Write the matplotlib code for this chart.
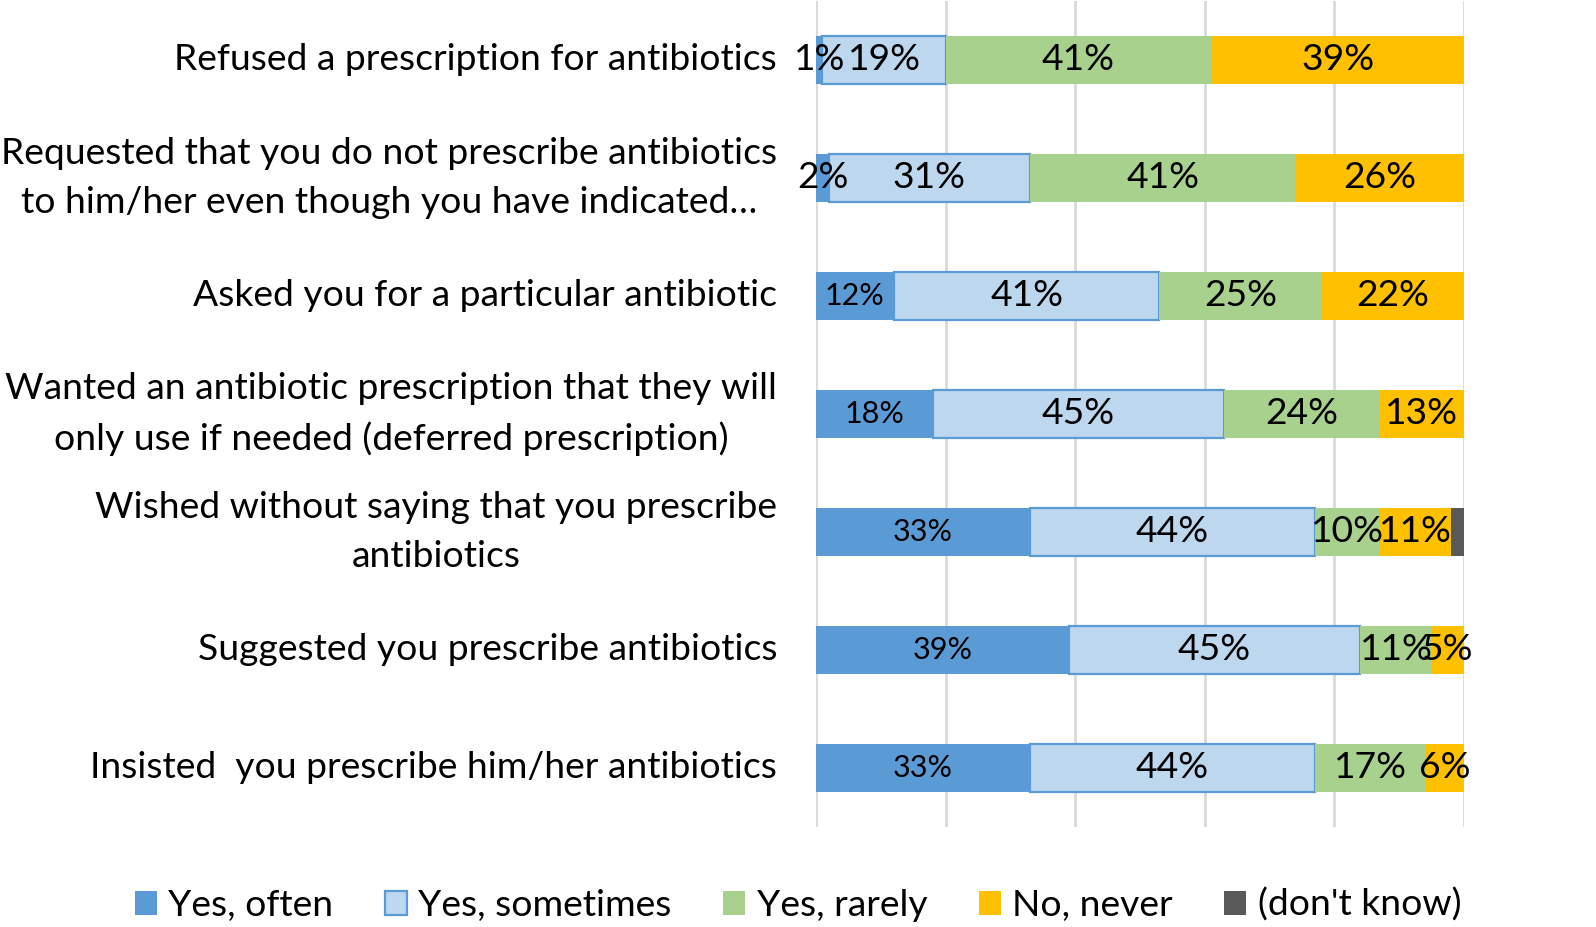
import matplotlib
matplotlib.use("Agg")
import matplotlib.pyplot as plt
from matplotlib.patches import Patch
import numpy as np

plt.rcParams['font.family'] = ['Lato', 'DejaVu Sans']

categories = [
    "Refused a prescription for antibiotics",
    "Requested that you do not prescribe antibiotics\nto him/her even though you have indicated…",
    "Asked you for a particular antibiotic",
    "Wanted an antibiotic prescription that they will\nonly use if needed (deferred prescription)",
    "Wished without saying that you prescribe\nantibiotics",
    "Suggested you prescribe antibiotics",
    "Insisted  you prescribe him/her antibiotics",
]
series_names = ["Yes, often", "Yes, sometimes", "Yes, rarely", "No, never", "(don't know)"]
yes_often = [1, 2, 12, 18, 33, 39, 33]
yes_sometimes = [19, 31, 41, 45, 44, 45, 44]
yes_rarely = [41, 41, 25, 24, 10, 11, 17]
no_never = [39, 26, 22, 13, 11, 5, 6]
dont_know = [0, 0, 0, 0, 2, 0, 0]

colors = ["#5B9BD5", "#BDD7EE", "#A9D18E", "#FFC000", "#595959"]
series = [yes_often, yes_sometimes, yes_rarely, no_never, dont_know]

FS = 26.8
fig = plt.figure(figsize=(15.96, 9.27), dpi=100)
ax = fig.add_axes([816/1596, 1-827/927, (1464-816)/1596, (827-1)/927])

n = len(categories)
ypos = np.arange(n)[::-1]
left = np.zeros(n)
bar_h = 0.4
for i, (vals, col) in enumerate(zip(series, colors)):
    vals = np.array(vals, dtype=float)
    if i == 1:
        ax.barh(ypos, vals, left=left, height=bar_h, color=col, edgecolor="#5B9BD5",
                linewidth=1.6, zorder=3)
    else:
        ax.barh(ypos, vals, left=left, height=bar_h, color=col, linewidth=0, zorder=3)
    if i < 4:
        for y, l, v in zip(ypos, left, vals):
            if v <= 0:
                continue
            small = (i == 0 and v >= 10)
            ax.text(l + v / 2, y, f"{int(v)}%", ha="center", va="center",
                    fontsize=22 if small else FS, color="black", zorder=5)
    left += vals

ax.set_xlim(0, 100)
ax.set_ylim(-0.5, n - 0.5)
ax.set_xticks([0, 20, 40, 60, 80, 100])
ax.xaxis.grid(True, color="#D9D9D9", linewidth=2, zorder=0)
ax.set_axisbelow(True)
ax.tick_params(axis="x", length=0, labelbottom=False)
ax.tick_params(axis="y", length=0, pad=0)
ax.set_yticks(ypos)
ax.set_yticklabels([])
for s in ax.spines.values():
    s.set_visible(False)

for y, c in zip(ypos, categories):
    ax.text(-6.0, y, c, ha="right", va="center", fontsize=FS, multialignment="center",
            linespacing=1.6, transform=ax.transData, clip_on=False)

handles = []
for i, (nm, col) in enumerate(zip(series_names, colors)):
    if i == 1:
        handles.append(Patch(facecolor=col, edgecolor="#5B9BD5", linewidth=1.6, label=nm))
    else:
        handles.append(Patch(facecolor=col, edgecolor=col, linewidth=0, label=nm))
fig.legend(handles=handles, loc="center", bbox_to_anchor=(0.5, 1 - 905/927), ncol=5,
           frameon=False, fontsize=FS, handlelength=0.6, handleheight=0.6,
           handletextpad=0.3, columnspacing=1.38)

fig.savefig("out.png", dpi=100)
